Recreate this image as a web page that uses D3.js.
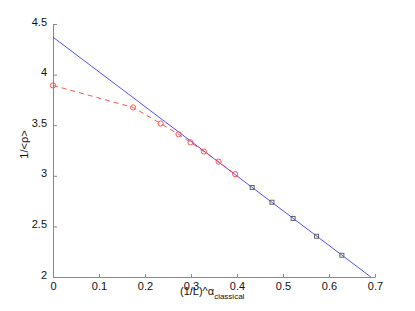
<!DOCTYPE html>
<html>
<head>
<meta charset="utf-8">
<script src="https://cdn.jsdelivr.net/npm/d3@7"></script>
<style>
  body { margin: 0; background: #fff; }
  text { font-family: "Liberation Sans", Arial, sans-serif; }
</style>
</head>
<body>
<div id="chart"></div>
<script>
// Data
var circleX = [0, 0.174, 0.234, 0.273, 0.299, 0.328, 0.36, 0.396];
var circleY = [3.893, 3.676, 3.517, 3.41, 3.33, 3.24, 3.14, 3.016];
var squareX = [0.433, 0.476, 0.522, 0.573, 0.628];
var squareY = [2.884, 2.739, 2.578, 2.403, 2.215];
var fitX = [0, 0.691];
var fitY = [4.37, 2];
var xTicks = [0, 0.1, 0.2, 0.3, 0.4, 0.5, 0.6, 0.7];
var yTicks = [2, 2.5, 3, 3.5, 4, 4.5];

var svgWidth = 415;
var svgHeight = 311;

var margin = { top: 24, right: 40, bottom: 34, left: 53 };
var width = 375 - margin.left;
var height = 277 - margin.top;

var svg = d3.select("#chart")
  .append("svg")
  .attr("width", svgWidth)
  .attr("height", svgHeight);

var chartGroup = svg.append("g")
  .attr("transform", `translate(${margin.left}, ${margin.top})`);

var xScale = d3.scaleLinear().domain([0, 0.7]).range([0, width]);
var yScale = d3.scaleLinear().domain([2, 4.5]).range([height, 0]);

// axes (ticks pointing inward, MATLAB style)
var bottomAxis = d3.axisBottom(xScale)
  .tickValues(xTicks)
  .tickSizeInner(-3)
  .tickSizeOuter(0)
  .tickPadding(7)
  .tickFormat(d3.format("~g"));
var leftAxis = d3.axisLeft(yScale)
  .tickValues(yTicks)
  .tickSizeInner(-4)
  .tickSizeOuter(0)
  .tickPadding(6)
  .tickFormat(d3.format("~g"));

var xg = chartGroup.append("g")
  .attr("transform", `translate(0, ${height})`)
  .call(bottomAxis);
var yg = chartGroup.append("g").call(leftAxis);

[xg, yg].forEach(function(g) {
  g.select(".domain").attr("stroke", "#888");
  g.selectAll(".tick line").attr("stroke", "#888");
  g.selectAll(".tick text").attr("fill", "#111").attr("font-size", "11px")
    .attr("font-family", "Liberation Sans, Arial, sans-serif");
});
yg.selectAll(".tick text").attr("dy", "0.1em");
xg.selectAll(".tick text").attr("dy", "0.5em");

// fitted line
var line = d3.line().x(d => xScale(d[0])).y(d => yScale(d[1]));
chartGroup.append("path")
  .datum(d3.zip(fitX, fitY))
  .attr("d", line)
  .attr("fill", "none")
  .attr("stroke", "#3b3bff")
  .attr("stroke-width", 0.9);

// dashed red curve through circles
var circleData = d3.zip(circleX, circleY);
chartGroup.append("path")
  .datum(circleData)
  .attr("d", line)
  .attr("fill", "none")
  .attr("stroke", "#ff4040")
  .attr("stroke-width", 0.9)
  .attr("stroke-dasharray", "5,4");

chartGroup.selectAll(".pt")
  .data(circleData)
  .enter()
  .append("circle")
  .attr("cx", d => xScale(d[0]))
  .attr("cy", d => yScale(d[1]))
  .attr("r", 2.6)
  .attr("fill", "none")
  .attr("stroke", "#ff4040")
  .attr("stroke-width", 0.9);

chartGroup.selectAll(".sq")
  .data(d3.zip(squareX, squareY))
  .enter()
  .append("rect")
  .attr("x", d => xScale(d[0]) - 2)
  .attr("y", d => yScale(d[1]) - 2)
  .attr("width", 4)
  .attr("height", 4)
  .attr("fill", "none")
  .attr("stroke", "#555")
  .attr("stroke-width", 0.9);

// axis labels
chartGroup.append("text")
  .attr("transform", `translate(${-25}, ${height / 2 - 6}) rotate(-90)`)
  .attr("text-anchor", "middle")
  .attr("font-size", "11px")
  .attr("fill", "#111")
  .text("1/<ρ>");

var xl = chartGroup.append("text")
  .attr("x", 127)
  .attr("y", height + 18)
  .attr("font-size", "11px")
  .attr("fill", "#111");
xl.append("tspan").text("(1/L)^α");
xl.append("tspan").attr("font-size", "8px").attr("dy", 4).text("classical");
</script>
</body>
</html>
